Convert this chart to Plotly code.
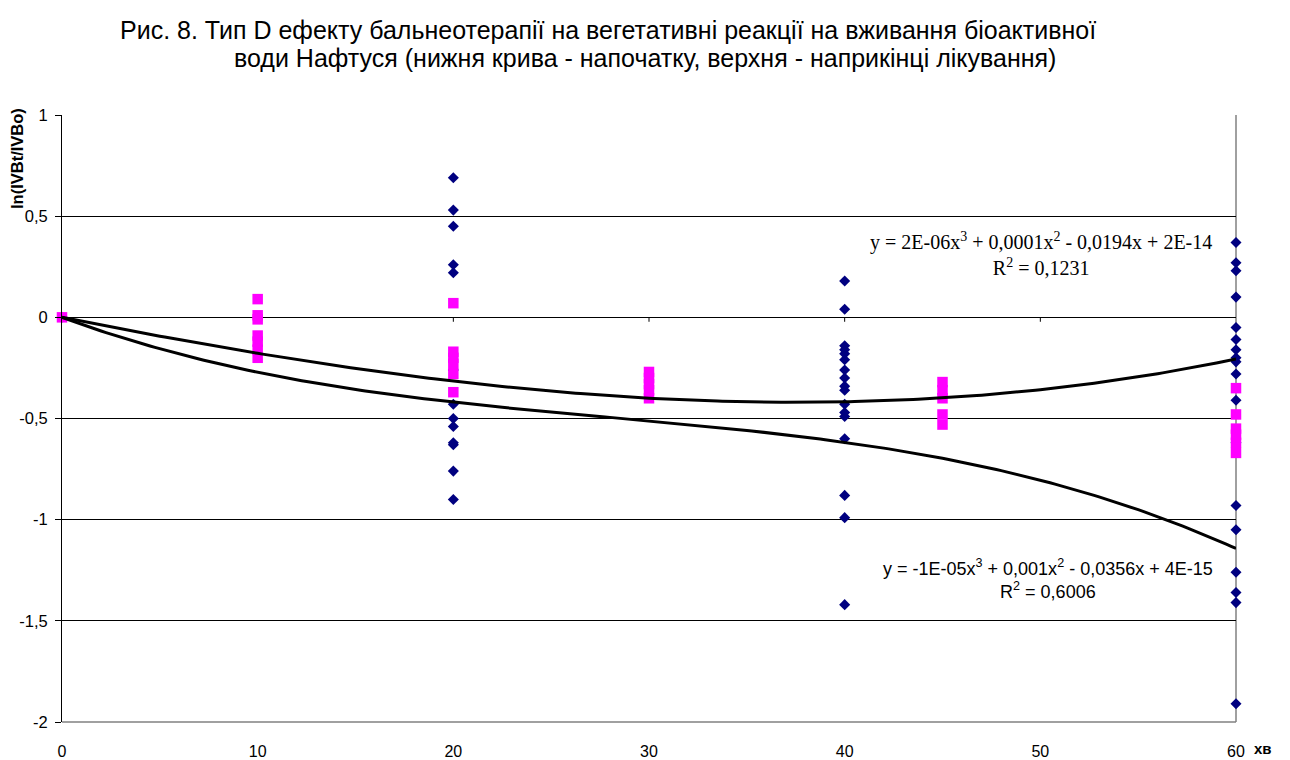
import numpy as np
import plotly.graph_objects as go

# ---- data -------------------------------------------------------------
# navy diamonds
diamond_x = ([0]
             + [20] * 13
             + [40] * 17
             + [60] * 18)
diamond_y = ([0.0]
             + [0.69, 0.53, 0.45, 0.26, 0.22, -0.26, -0.43, -0.50, -0.54, -0.62, -0.63, -0.76, -0.90]
             + [0.18, 0.04, -0.14, -0.16, -0.18, -0.21, -0.26, -0.30, -0.34, -0.36, -0.43, -0.47,
                -0.49, -0.60, -0.88, -0.99, -1.42]
             + [0.37, 0.27, 0.23, 0.10, -0.05, -0.11, -0.16, -0.20, -0.22, -0.28, -0.41, -0.62,
                -0.93, -1.05, -1.26, -1.36, -1.41, -1.91])

# magenta squares
square_x = ([0]
            + [10] * 7
            + [20] * 6
            + [30] * 5
            + [45] * 5
            + [60] * 6)
square_y = ([0.0]
            + [0.09, 0.01, -0.01, -0.09, -0.12, -0.16, -0.20]
            + [0.07, -0.17, -0.20, -0.23, -0.28, -0.37]
            + [-0.27, -0.30, -0.33, -0.36, -0.40]
            + [-0.32, -0.36, -0.40, -0.48, -0.53]
            + [-0.35, -0.48, -0.55, -0.58, -0.62, -0.67])

# cubic trendlines, highest power first
coef_upper = [2.1e-6, 0.00014, -0.0194, 2e-14]
coef_lower = [-1.14e-5, 0.00096, -0.0356, 4e-15]
r2_upper = 0.1231
r2_lower = 0.6006

x_ticks = [0, 10, 20, 30, 40, 50, 60]
y_ticks = [1, 0.5, 0, -0.5, -1, -1.5, -2]
y_tick_text = ["1", "0,5", "0", "-0,5", "-1", "-1,5", "-2"]

title_1 = "Рис. 8. Тип D ефекту бальнеотерапії на вегетативні реакції на вживання біоактивної"
title_2 = "води Нафтуся (нижня крива - напочатку, верхня - наприкінці лікування)"
y_title = "ln(IVBt/IVBo)"
x_title = "хв"

# ---- helpers ------------------------------------------------------------
def fmt_num(v):
    a = abs(v)
    if a < 5e-5:
        return f"{a:.0E}"
    s = f"{round(a, 4):.4f}".rstrip("0").rstrip(".")
    return s.replace(".", ",")


def equation(coefs):
    powers = ["x<sup>3</sup>", "x<sup>2</sup>", "x", ""]
    parts = []
    for i, (c, p) in enumerate(zip(coefs, powers)):
        term = fmt_num(c) + p
        if i == 0:
            parts.append(("-" if c < 0 else "") + term)
        else:
            parts.append((" - " if c < 0 else " + ") + term)
    return "y = " + "".join(parts)


def r2_text(r2):
    return "R<sup>2</sup> = " + f"{r2:.4f}".replace(".", ",")


x_fit = np.linspace(0, 60, 241)

fig = go.Figure()

fig.add_trace(go.Scatter(
    x=diamond_x, y=diamond_y, mode="markers",
    marker=dict(symbol="diamond", size=8.5, color="#000080", line=dict(width=0)),
    cliponaxis=False, showlegend=False, hoverinfo="skip"))

fig.add_trace(go.Scatter(
    x=square_x, y=square_y, mode="markers",
    marker=dict(symbol="square", size=10.5, color="#FF00FF", line=dict(width=0)),
    cliponaxis=False, showlegend=False, hoverinfo="skip"))

for coefs in (coef_upper, coef_lower):
    fig.add_trace(go.Scatter(
        x=x_fit, y=np.polyval(coefs, x_fit), mode="lines",
        line=dict(color="black", width=3),
        showlegend=False, hoverinfo="skip"))

# ---- layout -----------------------------------------------------------
L, R, T, B = 62, 1236, 115, 722
W, H = 1290, 760


def px(xp):
    return (xp - L) / (R - L)


def py(yp):
    return (B - yp) / (B - T)


# small tick marks hanging below the zero line (category axis crosses at 0)
tick_shapes = [
    dict(type="line", xref="x", yref="y", x0=t, x1=t, y0=0, y1=-0.022,
         line=dict(color="black", width=1), layer="between")
    for t in x_ticks[1:-1]
]

fig.update_layout(
    width=W, height=H,
    margin=dict(l=L, r=W - R, t=T, b=H - B, autoexpand=False),
    paper_bgcolor="white", plot_bgcolor="white",
    font=dict(family="Arial, Liberation Sans, sans-serif", color="black", size=16),
    xaxis=dict(
        range=[0, 60], tickvals=x_ticks, ticks="", showgrid=False,
        zeroline=False, showline=False, ticklabelstandoff=18,
        tickfont=dict(size=16), automargin=False,
    ),
    yaxis=dict(
        range=[-2, 1], tickvals=y_ticks, ticktext=y_tick_text,
        ticks="outside", ticklen=6, tickcolor="black",
        showgrid=True, gridcolor="black", gridwidth=1,
        zeroline=False, showline=True, linecolor="black", linewidth=1,
        tickfont=dict(size=16.5), ticklabelstandoff=4, automargin=False,
    ),
    shapes=[
        dict(type="line", xref="paper", yref="paper", x0=0, x1=1, y0=0, y1=0,
             line=dict(color="#808080", width=1.5), layer="between"),
        dict(type="line", xref="paper", yref="paper", x0=1, x1=1, y0=0, y1=1,
             line=dict(color="#808080", width=1.5), layer="between"),
    ] + tick_shapes,
    annotations=[
        dict(text=title_1, xref="paper", yref="paper", x=px(608), y=py(30),
             showarrow=False, xanchor="center", yanchor="middle",
             font=dict(size=25)),
        dict(text=title_2, xref="paper", yref="paper", x=px(645), y=py(58),
             showarrow=False, xanchor="center", yanchor="middle",
             font=dict(size=25)),
        dict(text="<b>" + y_title + "</b>", xref="paper", yref="paper",
             x=px(17), y=py(159), textangle=-90, showarrow=False,
             xanchor="center", yanchor="middle", font=dict(size=16.5)),
        dict(text="<b>" + x_title + "</b>", xref="paper", yref="paper",
             x=px(1263), y=py(749), showarrow=False,
             xanchor="center", yanchor="middle", font=dict(size=15)),
        dict(text=equation(coef_upper) + "<br>" + r2_text(r2_upper),
             xref="paper", yref="paper", x=px(1041), y=py(254), showarrow=False,
             xanchor="center", yanchor="middle", align="center",
             font=dict(family="Liberation Serif, Times New Roman, serif", size=20)),
        dict(text=equation(coef_lower) + "<br>" + r2_text(r2_lower),
             xref="paper", yref="paper", x=px(1048), y=py(579), showarrow=False,
             xanchor="center", yanchor="middle", align="center",
             font=dict(size=18)),
    ],
)

fig.write_html("out.html")
